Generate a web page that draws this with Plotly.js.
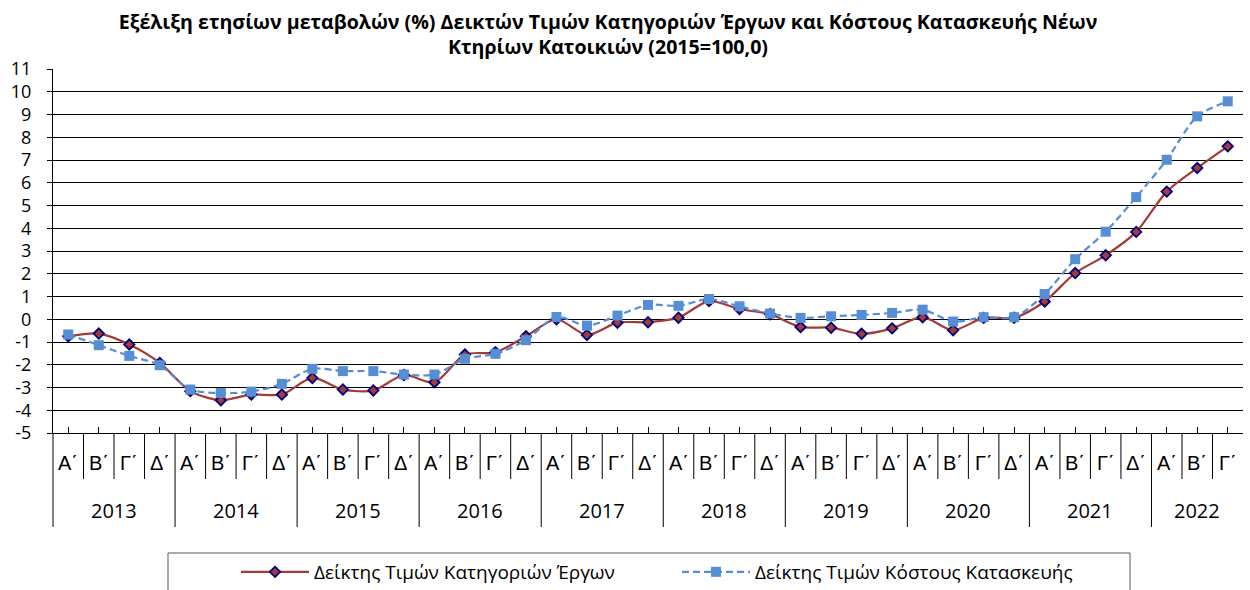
<!DOCTYPE html>
<html>
<head>
<meta charset="utf-8">
<script src="https://cdn.plot.ly/plotly-3.0.1.min.js"></script>
<style>html,body{margin:0;padding:0;background:#fff;}#chart{width:1250px;height:590px;}</style>
</head>
<body>
<div id="chart"></div>
<script>
// ---- data ----
const years = ["2013","2014","2015","2016","2017","2018","2019","2020","2021","2022"];
const quarters = ["Α΄","Β΄","Γ΄","Δ΄"];
const periodsCount = 39;
const seriesErgon = [-0.75,-0.63,-1.11,-1.92, -3.16,-3.56,-3.31,-3.31, -2.58,-3.09,-3.13,-2.45,
  -2.77,-1.55,-1.45,-0.75, 0.00,-0.69,-0.15,-0.13, 0.07,0.80,0.45,0.22,
  -0.34,-0.37,-0.64,-0.40, 0.09,-0.48,0.06,0.07, 0.78,2.03,2.81,3.84, 5.61,6.65,7.60];
const seriesKostous = [-0.67,-1.14,-1.61,-2.02, -3.09,-3.24,-3.18,-2.84, -2.18,-2.28,-2.28,-2.43,
  -2.43,-1.74,-1.52,-0.92, 0.10,-0.28,0.16,0.63, 0.59,0.89,0.57,0.25,
  0.06,0.13,0.19,0.28, 0.42,-0.10,0.09,0.09, 1.11,2.64,3.85,5.37, 7.01,8.92,9.58];
const yTickValues = [-5,-4,-3,-2,-1,0,1,2,3,4,5,6,7,8,9,10,11];
const yTickLabels = ["-5","-4","-3","-2","-1","0","1","2","3","4","5","6","7","8","9","10","11"];
const nameErgon = "Δείκτης Τιμών Κατηγοριών Έργων";
const nameKostous = "Δείκτης Τιμών Κόστους Κατασκευής";
const titleText = "<b>Εξέλιξη ετησίων μεταβολών (%) Δεικτών Τιμών Κατηγοριών Έργων και Κόστους Κατασκευής Νέων<br>Κτηρίων Κατοικιών (2015=100,0)</b>";

// ---- build ----
const FONT = "Open Sans, Noto Sans, sans-serif";
const QFONT = "Liberation Sans, Arial, sans-serif";
const idx = seriesErgon.map((_, i) => i);
const n = periodsCount;
const W = 1250, H = 590;
const mL = 53, mR = 7, mT = 69, mB = 157;
const plotW = W - mL - mR, plotH = H - mT - mB;
const pyToPaper = py => (H - mB - py) / plotH;
const pxToPaper = px => (px - mL) / plotW;

const traces = [
  {x: idx, y: seriesErgon, name: nameErgon, type: "scatter", mode: "lines+markers",
   line: {color: "#A33B36", width: 2.2, shape: "spline", smoothing: 0.8},
   marker: {symbol: "diamond", size: 8, color: "#A33B36", line: {color: "#000080", width: 1.8}}},
  {x: idx, y: seriesKostous, name: nameKostous, type: "scatter", mode: "lines+markers",
   line: {color: "#558ED5", width: 2.2, dash: "7px,4px", shape: "spline", smoothing: 0.8},
   marker: {symbol: "square", size: 10, color: "#558ED5"}}
];

const shapes = [];
const annotations = [];
const qDepth = pyToPaper(479), yDepth = pyToPaper(527);
for (let i = 0; i < n; i++) {
  const xp = i / n; // left boundary of category i
  const isYear = (i % 4 === 0);
  shapes.push({type: "line", xref: "paper", yref: "paper", x0: xp, x1: xp, y0: 0, y1: isYear ? yDepth : qDepth,
    line: {color: "#000", width: 1}});
  annotations.push({xref: "x", yref: "paper", x: i, y: pyToPaper(463), text: quarters[i % 4],
    showarrow: false, xanchor: "center", yanchor: "middle", font: {family: QFONT, size: 20, color: "#000"}});
}
years.forEach((yr, k) => {
  const first = k * 4, last = Math.min(k * 4 + 3, n - 1);
  annotations.push({xref: "x", yref: "paper", x: (first + last) / 2, y: pyToPaper(511), text: yr,
    showarrow: false, xanchor: "center", yanchor: "middle", font: {family: FONT, size: 20, color: "#000"}});
});
// legend frame
shapes.push({type: "rect", xref: "paper", yref: "paper",
  x0: pxToPaper(168), x1: pxToPaper(1130), y0: pyToPaper(553), y1: pyToPaper(600),
  line: {color: "#595959", width: 1}, fillcolor: "rgba(0,0,0,0)"});

const layout = {
  width: W, height: H,
  margin: {l: mL, r: mR, t: mT, b: mB, autoexpand: false},
  paper_bgcolor: "#fff", plot_bgcolor: "#fff",
  font: {family: FONT, size: 19, color: "#000"},
  title: {text: titleText, x: 608 / W, xref: "container", xanchor: "center",
          y: 1 - 29 / H, yref: "container", yanchor: "middle",
          font: {family: FONT, size: 19.6, color: "#000"}},
  showlegend: true,
  legend: {orientation: "h", x: pxToPaper(236), xanchor: "left", y: pyToPaper(553), yanchor: "top",
           font: {family: FONT, size: 19, color: "#000"}, bgcolor: "rgba(0,0,0,0)", borderwidth: 0,
           itemwidth: 68, entrywidth: 358, entrywidthmode: "pixels"},
  xaxis: {range: [-0.5, n - 0.5], showgrid: false, zeroline: false, showline: true, linecolor: "#000", linewidth: 1,
          ticks: "inside", ticklen: 6, tickcolor: "#000", tickvals: idx, showticklabels: false, fixedrange: true},
  yaxis: {range: [-5, 11], tickvals: yTickValues, ticktext: yTickLabels, showgrid: true, gridcolor: "#000", gridwidth: 1,
          zeroline: false, showline: true, linecolor: "#000", linewidth: 1, ticks: "outside", ticklen: 5, tickcolor: "#000",
          ticklabelstandoff: 12, tickfont: {family: FONT, size: 18, color: "#000"}, fixedrange: true},
  shapes: shapes,
  annotations: annotations
};

Plotly.newPlot("chart", traces, layout, {displayModeBar: false, staticPlot: true});
</script>
</body>
</html>
